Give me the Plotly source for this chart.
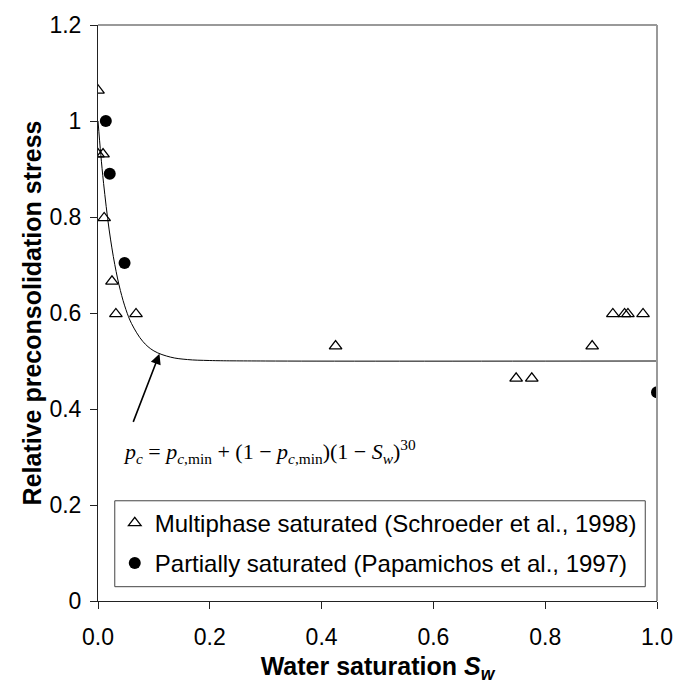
import plotly.graph_objects as go

# Multiphase saturated (Schroeder et al., 1998)
multi_sw = [0.0, 0.0, 0.009, 0.011, 0.025, 0.032, 0.068, 0.425, 0.748, 0.776, 0.884, 0.921, 0.942, 0.948, 0.975]
multi_p = [1.064, 0.931, 0.931, 0.798, 0.666, 0.598, 0.598, 0.531, 0.464, 0.464, 0.531, 0.598, 0.598, 0.598, 0.598]

# Partially saturated (Papamichos et al., 1997)
part_sw = [0.014, 0.021, 0.0475, 1.0]
part_p = [1.0, 0.890, 0.704, 0.435]

# Model curve: pc = pc,min + (1 - pc,min)(1 - Sw)^30
curve_sw = [0.0, 0.005, 0.01, 0.02, 0.03, 0.04, 0.05, 0.06, 0.08, 0.10, 0.13, 0.16, 0.2, 0.3, 1.0]
curve_p = [1.0, 0.930, 0.870, 0.773, 0.701, 0.647, 0.607, 0.578, 0.541, 0.521, 0.508, 0.503, 0.501, 0.500, 0.500]

x_ticks = [0.0, 0.2, 0.4, 0.6, 0.8, 1.0]
y_ticks = [0, 0.2, 0.4, 0.6, 0.8, 1.0, 1.2]
y_tick_labels = ["0", "0.2", "0.4", "0.6", "0.8", "1", "1.2"]

FAM = "Liberation Sans, Arial"
tick_font = dict(family=FAM, size=23, color="black")
title_font = dict(family=FAM, size=25, color="black")

fig = go.Figure()
fig.add_trace(go.Scatter(x=curve_sw, y=curve_p, mode="lines", line=dict(color="black", width=1, shape="spline"),
                         showlegend=False, hoverinfo="skip"))
fig.add_trace(go.Scatter(x=multi_sw, y=multi_p, mode="markers", name="Multiphase saturated (Schroeder et al., 1998)",
                         legendgroup="a",
                         marker=dict(symbol="triangle-up-open", size=11, color="black", line=dict(width=1.3, color="black"))))
fig.add_trace(go.Scatter(x=part_sw, y=part_p, mode="markers", name="Partially saturated (Papamichos et al., 1997)",
                         legendgroup="b",
                         marker=dict(symbol="circle", size=12, color="black")))

fig.update_layout(
    width=685, height=688,
    margin=dict(l=98, r=19, t=18, b=86.5),
    paper_bgcolor="white", plot_bgcolor="white",
    font=tick_font,
    xaxis=dict(range=[0, 1.0], tickvals=x_ticks, tickformat=".1f", showgrid=False, zeroline=False,
               showline=True, linecolor="#222", linewidth=1, ticks="outside", ticklen=7, tickcolor="#222",
               tickfont=tick_font, ticklabelstandoff=8,
               title=dict(text="<b>Water saturation <i>S</i><sub><i>w</i></sub></b>", font=title_font, standoff=8)),
    yaxis=dict(range=[0, 1.2], tickvals=y_ticks, ticktext=y_tick_labels, showgrid=False, zeroline=False,
               showline=True, linecolor="#222", linewidth=1, ticks="outside", ticklen=7, tickcolor="#222",
               tickfont=tick_font, ticklabelstandoff=4,
               title=dict(text="<b>Relative preconsolidation stress</b>", font=title_font, standoff=0)),
    legend=dict(x=0.03, y=0.174, xanchor="left", yanchor="top", bgcolor="rgba(0,0,0,0)", borderwidth=0,
                font=dict(family=FAM, size=24, color="black"),
                traceorder="grouped", tracegroupgap=6),
    showlegend=True,
)

# top and right frame (grey)
fig.add_shape(type="line", xref="paper", yref="paper", x0=0, x1=1, y0=1, y1=1, line=dict(color="#999", width=2))
fig.add_shape(type="line", xref="paper", yref="paper", x0=1, x1=1, y0=0, y1=1, line=dict(color="#999", width=2))
# legend box
fig.add_shape(type="rect", xref="x", yref="y", x0=0.030, x1=0.979, y0=0.0298, y1=0.2088,
              line=dict(color="#444", width=1), fillcolor="rgba(0,0,0,0)")

fig.add_annotation(x=0.110, y=0.515, ax=0.062, ay=0.370, xref="x", yref="y", axref="x", ayref="y",
                   showarrow=True, arrowhead=2, arrowsize=1.3, arrowwidth=1.6, arrowcolor="black", text="")
fig.add_annotation(x=0.042, y=0.312, xref="x", yref="y", xanchor="left", yanchor="middle", showarrow=False,
                   text="<i>p</i><sub><i>c</i></sub> = <i>p</i><sub><i>c</i>,min</sub> + (1 − <i>p</i><sub><i>c</i>,min</sub>)(1 − <i>S</i><sub><i>w</i></sub>)<sup>30</sup>",
                   font=dict(family="Liberation Serif, Times New Roman", size=22, color="black"))

fig.write_html("out.html")
